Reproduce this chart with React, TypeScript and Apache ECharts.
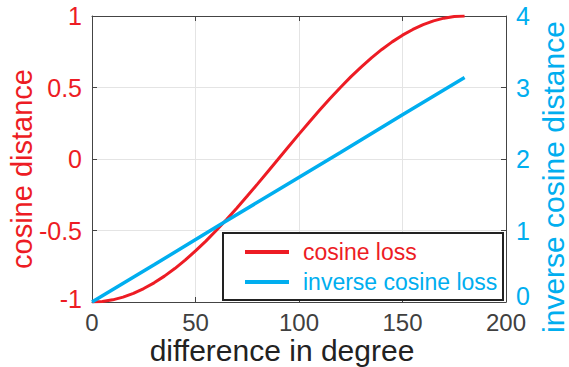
import React, { useEffect, useRef } from "react";
import * as echarts from "echarts";

const degrees = [0, 5, 10, 15, 20, 25, 30, 35, 40, 45, 50, 55, 60, 65, 70, 75, 80, 85, 90, 95, 100, 105, 110, 115, 120, 125, 130, 135, 140, 145, 150, 155, 160, 165, 170, 175, 180];
const cosineLoss = [-1, -0.996, -0.985, -0.966, -0.94, -0.906, -0.866, -0.819, -0.766, -0.707, -0.643, -0.574, -0.5, -0.423, -0.342, -0.259, -0.174, -0.087, 0, 0.087, 0.174, 0.259, 0.342, 0.423, 0.5, 0.574, 0.643, 0.707, 0.766, 0.819, 0.866, 0.906, 0.94, 0.966, 0.985, 0.996, 1];
const inverseDegrees = [0, 30, 60, 90, 120, 150, 180];
const inverseCosineLoss = [0, 0.52, 1.05, 1.57, 2.09, 2.62, 3.14];

const seriesNames = ["cosine loss", "inverse cosine loss"];
const RED = "#ed1c24";
const BLUE = "#00aeef";
const FONT = "Liberation Sans";

export default function App() {
  const ref = useRef<HTMLDivElement>(null);
  useEffect(() => {
    const chart = echarts.init(ref.current!, null, { renderer: "svg" });
    const axisLine = { show: true, onZero: false, lineStyle: { color: "#444", width: 1 } };
    const tick = { show: true, inside: true, length: 5, lineStyle: { color: "#444" } };
    chart.setOption({
      animation: false,
      textStyle: { fontFamily: FONT },
      grid: { left: 92, right: 63, top: 16, bottom: 65 },
      xAxis: [
        {
          type: "value", min: 0, max: 200, interval: 50,
          axisLine, axisTick: tick,
          axisLabel: { color: "#404040", fontSize: 24, lineHeight: 24, margin: 8, fontFamily: FONT },
          splitLine: { show: true, lineStyle: { color: "#e4e4e4" } },
        },
        {
          type: "value", position: "top", min: 0, max: 200, interval: 50,
          axisLine, axisTick: tick, axisLabel: { show: false }, splitLine: { show: false },
        },
      ],
      yAxis: [
        {
          type: "value", min: -1, max: 1, interval: 0.5, position: "left",
          axisLine, axisTick: tick,
          axisLabel: {
            color: RED, fontSize: 25, margin: 10, fontFamily: FONT,
            formatter: (v: number) => (v === -1 ? "{low|-1}" : String(v)),
            rich: { low: { fontSize: 25, color: RED, fontFamily: FONT, padding: [0, 0, 7, 0] } },
          },
          splitLine: { show: true, lineStyle: { color: "#e4e4e4" } },
        },
        {
          type: "value", min: 0, max: 4, interval: 1, position: "right",
          axisLine, axisTick: tick,
          axisLabel: {
            color: BLUE, fontSize: 25, margin: 10, fontFamily: FONT,
            formatter: (v: number) => (v === 0 ? "{low|0}" : String(v)),
            rich: { low: { fontSize: 25, lineHeight: 22, color: BLUE, fontFamily: FONT, padding: [0, 0, 12, 0] } },
          },
          splitLine: { show: false },
        },
      ],
      legend: {
        orient: "vertical", left: 245, top: 239, itemGap: 4,
        itemWidth: 44, itemHeight: 4, icon: "rect",
        padding: 0,
        textStyle: { fontSize: 23, lineHeight: 26, fontFamily: FONT, padding: [0, 0, 0, 9] },
        data: [
          { name: seriesNames[0], textStyle: { color: RED } },
          { name: seriesNames[1], textStyle: { color: BLUE } },
        ],
        z: 20,
      },
      graphic: [
        {
          type: "rect", left: 222, top: 232, z: 15,
          shape: { width: 280, height: 67 },
          style: { fill: "#fff", stroke: "#222", lineWidth: 2 },
        },
        {
          type: "text", x: 282, y: 350, z: 5,
          style: { text: "difference in degree", fill: "#222", font: `30px ${FONT}`, textAlign: "center", textVerticalAlign: "middle" },
        },
        {
          type: "text", x: 22, y: 169, rotation: Math.PI / 2, z: 5,
          style: { text: "cosine distance", fill: RED, font: `29px ${FONT}`, textAlign: "center", textVerticalAlign: "middle" },
        },
        {
          type: "text", x: 553, y: 177, rotation: Math.PI / 2, z: 5,
          style: { text: "inverse cosine distance", fill: BLUE, font: `30px ${FONT}`, textAlign: "center", textVerticalAlign: "middle" },
        },
      ],
      series: [
        {
          name: seriesNames[0], type: "line", xAxisIndex: 0, yAxisIndex: 0,
          data: degrees.map((d, i) => [d, cosineLoss[i]]),
          showSymbol: false, smooth: false, color: RED,
          lineStyle: { color: RED, width: 3 },
        },
        {
          name: seriesNames[1], type: "line", xAxisIndex: 0, yAxisIndex: 1,
          data: inverseDegrees.map((d, i) => [d, inverseCosineLoss[i]]),
          showSymbol: false, color: BLUE,
          lineStyle: { color: BLUE, width: 3.5 },
        },
      ],
    });
    return () => chart.dispose();
  }, []);
  return <div ref={ref} style={{ width: 569, height: 367, position: "absolute", left: 0, top: 0 }} />;
}
